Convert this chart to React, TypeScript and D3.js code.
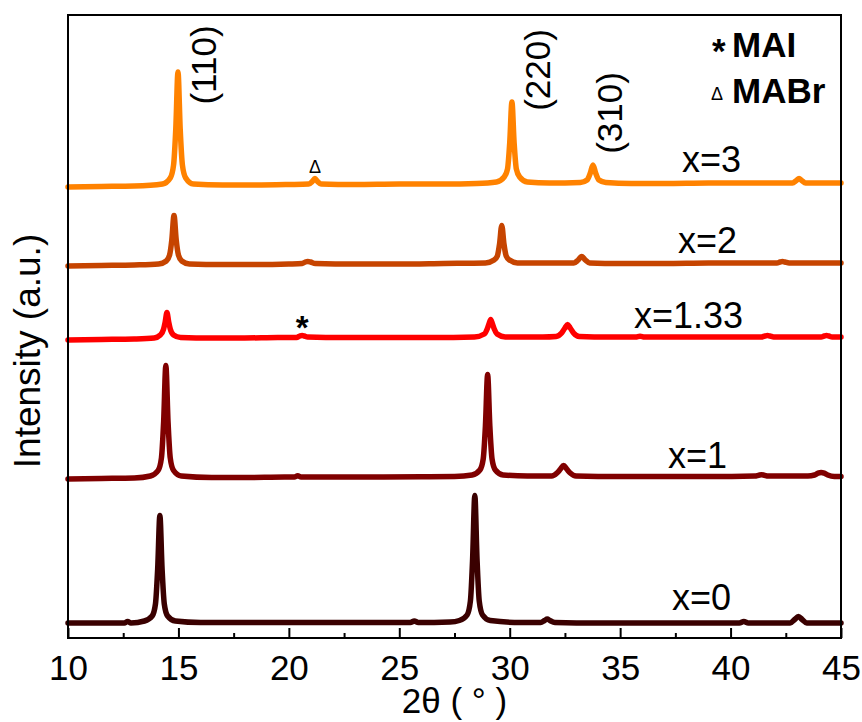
import React, { useEffect, useRef } from "react";
import * as d3 from "d3";

// 2θ (degrees) vs relative intensity (a.u.) above each pattern's own baseline
const seriesX3: [number, number][] = [
  [10.0,-2],[11.5,-1.5],[13.0,-1],[14.28,1],[14.63,7],[14.78,20],[14.88,56],[14.98,113],[15.08,56],[15.18,20],[15.33,7],[15.68,1],[17.0,0],[18.5,0],[20.0,0.5],[20.9,1],[21.06,3.5],[21.18,6.5],[21.30,3.5],[21.46,1],[23.0,0.5],[25.0,1],[27.0,1],[28.5,1.5],[29.4,3],[29.75,8],[29.9,16],[30.0,42],[30.1,83],[30.2,42],[30.3,16],[30.45,8],[30.8,3],[31.8,2],[33.2,2.5],[33.5,5],[33.65,12],[33.77,20],[33.89,12],[34.04,5],[34.35,2.5],[35.5,1.5],[37.0,1.5],[39.0,2],[41.0,2],[42.8,2],[42.98,4.5],[43.1,6.5],[43.22,4.5],[43.4,2],[45.0,2]
];
const seriesX2: [number, number][] = [
  [10.0,-1],[11.5,-0.5],[13.0,0],[14.1,1],[14.45,4],[14.6,10],[14.7,25],[14.8,49.5],[14.9,25],[15.0,10],[15.15,4],[15.5,1],[17.0,0.5],[18.5,0.5],[20.0,1],[20.6,1.5],[20.74,3],[20.86,3.5],[20.98,3],[21.2,1.5],[23.0,1],[25.0,1],[27.0,1.5],[28.9,2],[29.29,5],[29.44,9],[29.54,21],[29.64,39.5],[29.74,21],[29.84,9],[29.99,5],[30.35,2],[31.5,2],[32.9,2],[33.1,5],[33.26,8.5],[33.42,5],[33.62,2],[35.0,1.5],[37.0,1.5],[39.0,2],[41.0,2],[42.1,2],[42.24,3],[42.35,3.5],[42.46,3],[42.65,2],[44.0,2],[45.0,2]
];
const seriesX133: [number, number][] = [
  [10.0,-1],[11.5,-0.5],[13.0,0],[13.9,1],[14.18,4],[14.33,10],[14.4,17],[14.48,26.5],[14.56,17],[14.63,10],[14.78,4],[15.1,1.5],[16.5,1],[18.0,1],[19.5,1.5],[20.35,1.5],[20.5,3],[20.6,3.5],[20.7,3],[20.85,2],[22.5,1.5],[24.5,1.5],[26.5,1.5],[28.4,2],[28.85,5],[28.98,10],[29.06,15],[29.14,19.5],[29.22,15],[29.3,10],[29.43,5],[29.8,2],[31.5,2],[32.1,2.5],[32.35,6],[32.5,11],[32.62,14.5],[32.74,11],[32.89,6],[33.15,2.5],[34.5,2],[35.7,2],[35.9,2.8],[36.1,2],[38.0,2],[40.0,2],[41.4,2],[41.56,3],[41.67,3.5],[41.78,3],[41.95,2],[43.5,2],[44.1,2],[44.24,3],[44.34,3.5],[44.45,3],[44.6,2],[45.0,2]
];
const seriesX1: [number, number][] = [
  [10.0,-1],[11.5,-0.5],[13.0,0],[13.73,2],[14.08,7.5],[14.23,20],[14.33,56],[14.43,112.5],[14.53,56],[14.63,20],[14.78,7.5],[15.13,2],[16.5,0.5],[18.0,0.5],[19.8,1],[20.25,1],[20.4,2.2],[20.55,1],[22.0,1],[24.0,1],[26.0,1.2],[27.5,1.5],[28.3,3],[28.65,8],[28.8,19],[28.9,52],[29.0,103.5],[29.1,52],[29.2,19],[29.35,8],[29.7,3],[30.8,2],[31.9,2],[32.14,5],[32.3,9],[32.44,12.5],[32.58,9],[32.74,5],[33.0,2],[35.0,1.5],[37.0,1.5],[39.0,1.5],[41.1,2],[41.28,2.8],[41.4,3.2],[41.52,2.8],[41.7,2],[43.5,2],[43.8,3],[43.96,4.8],[44.1,5.5],[44.24,4.8],[44.4,3],[44.7,1.5],[45.0,1.5]
];
const seriesX0: [number, number][] = [
  [10.0,0],[12.0,0],[12.55,0],[12.7,1.5],[12.85,0],[13.46,2],[13.81,7],[13.96,19],[14.06,54],[14.16,107.5],[14.26,54],[14.36,19],[14.51,7],[14.86,2],[16.0,0.5],[18.0,0.5],[20.0,0.5],[22.0,0.5],[24.0,0.5],[25.5,0.5],[25.68,2],[25.86,0.5],[27.3,1],[27.72,2.5],[28.07,8],[28.22,22],[28.32,64],[28.42,127.5],[28.52,64],[28.62,22],[28.77,8],[29.12,2.5],[30.5,0.5],[31.4,0.5],[31.58,2.5],[31.7,4],[31.82,2.5],[32.05,0.5],[34.0,0],[36.0,0],[38.0,0],[40.4,0],[40.6,1.5],[40.8,0],[42.7,0],[42.9,3.5],[43.07,6.5],[43.24,3.5],[43.45,0],[45.0,0]
];

const seriesNames = ["x=3", "x=2", "x=1.33", "x=1", "x=0"];
const seriesData = [seriesX3, seriesX2, seriesX133, seriesX1, seriesX0];
const seriesOffsets = [453, 373, 299, 160, 15];
const seriesColors = ["#FF8200", "#C64400", "#FF0000", "#800000", "#3A0000"];

const xMajorTicks = [10, 15, 20, 25, 30, 35, 40, 45];
const xMinorTicks = [12.5, 17.5, 22.5, 27.5, 32.5, 37.5, 42.5];
const xDomain: [number, number] = [10, 45];
const yDomain: [number, number] = [0, 623];

// annotations: [label, 2θ, value above plot baseline]
const planeLabels: [string, number, number][] = [
  ["(110)", 16.7, 573],
  ["(220)", 31.82, 568],
  ["(310)", 35.08, 525],
];
const seriesLabelPos: [number, number][] = [
  [37.8, 466], [37.62, 385], [35.63, 310], [37.17, 170], [37.35, 28],
];

const W = 862, H = 722;
const M = { left: 68, right: 21, top: 15, bottom: 84 };
const FONT = "'Liberation Sans', Arial, Helvetica, sans-serif";

export default function App() {
  const axisRef = useRef<SVGGElement>(null);
  const minorRef = useRef<SVGGElement>(null);

  const x = d3.scaleLinear().domain(xDomain).range([M.left, W - M.right]);
  const y = d3.scaleLinear().domain(yDomain).range([H - M.bottom, M.top]);
  const plotBottom = H - M.bottom;

  useEffect(() => {
    if (axisRef.current) {
      const g = d3.select(axisRef.current);
      g.call(
        d3.axisBottom(x).tickValues(xMajorTicks).tickSize(-10).tickSizeOuter(0).tickPadding(17).tickFormat(d3.format("d")) as any
      );
      g.select(".domain").remove();
      g.attr("font-size", 35).attr("font-family", FONT);
      g.selectAll(".tick line").attr("stroke", "#000").attr("stroke-width", 2);
      g.selectAll(".tick text").attr("fill", "#000");
    }
    if (minorRef.current) {
      const g = d3.select(minorRef.current);
      g.call(d3.axisBottom(x).tickValues(xMinorTicks).tickSize(-5).tickSizeOuter(0).tickFormat(() => "") as any);
      g.select(".domain").remove();
      g.selectAll(".tick line").attr("stroke", "#000").attr("stroke-width", 2);
    }
  }, []);

  const line = d3
    .line<[number, number]>()
    .x((d) => x(d[0]))
    .curve(d3.curveMonotoneX);

  return (
    <svg width={W} height={H} style={{ position: "absolute", left: 0, top: 0, background: "#fff" }} fontFamily={FONT}>
      <rect x={0} y={0} width={W} height={H} fill="#fff" />
      {seriesData.map((data, i) => (
        <path
          key={seriesNames[i]}
          d={line.y((d) => y(d[1] + seriesOffsets[i]))(data) || ""}
          fill="none"
          stroke={seriesColors[i]}
          strokeWidth={5.5}
          strokeLinejoin="round"
          strokeLinecap="round"
        />
      ))}
      <rect x={M.left} y={M.top} width={W - M.left - M.right} height={plotBottom - M.top} fill="none" stroke="#000" strokeWidth={2} />
      <g ref={minorRef} transform={`translate(0,${plotBottom})`} />
      <g ref={axisRef} transform={`translate(0,${plotBottom})`} />

      {seriesNames.map((name, i) => (
        <text key={name} x={x(seriesLabelPos[i][0])} y={y(seriesLabelPos[i][1])} fontSize={36} fill="#000">
          {name}
        </text>
      ))}

      {planeLabels.map(([lab, t, v]) => (
        <text key={lab} transform={`translate(${x(t)},${y(v)}) rotate(-90)`} textAnchor="middle" fontSize={35} fill="#000">
          {lab}
        </text>
      ))}

      {/* phase markers */}
      <text x={x(21.18)} y={y(465)} textAnchor="middle" fontSize={18} fill="#000">Δ</text>
      <text x={x(20.6)} y={y(299)} textAnchor="middle" fontSize={33} fontWeight="bold" fill="#000">*</text>

      {/* legend */}
      <text x={712} y={63} fontSize={35} fontWeight="bold" fill="#000">*</text>
      <text x={732} y={57} fontSize={35} fontWeight="bold" fill="#000">MAI</text>
      <text x={711} y={100} fontSize={18} fill="#000">Δ</text>
      <text x={732} y={103} fontSize={35} fontWeight="bold" fill="#000">MABr</text>

      <text transform={`translate(40,351) rotate(-90)`} textAnchor="middle" fontSize={37} fill="#000">
        Intensity (a.u.)
      </text>
      <text x={(M.left + W - M.right) / 2} y={713} textAnchor="middle" fontSize={35} fill="#000">
        2θ ( ° )
      </text>
    </svg>
  );
}
